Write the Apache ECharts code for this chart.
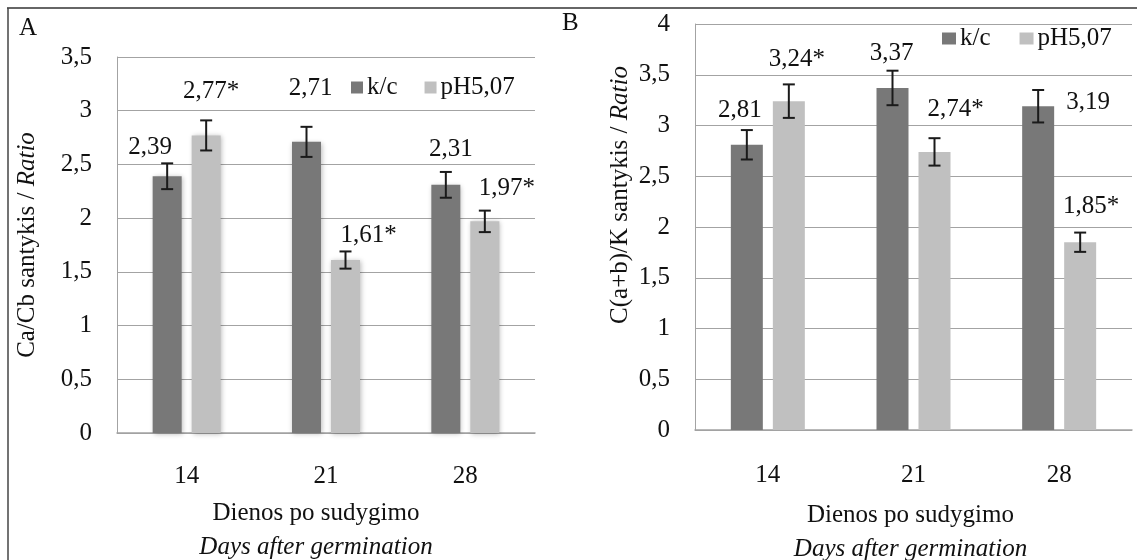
<!DOCTYPE html>
<html>
<head>
<meta charset="utf-8">
<script src="https://cdn.jsdelivr.net/npm/echarts@6/dist/echarts.min.js"></script>
<style>
  html, body { margin: 0; padding: 0; background: #fff; }
  #chart { width: 1137px; height: 560px; }
</style>
</head>
<body>
<div id="chart"></div>
<script>
// categories (days after germination)
const days = ["14", "21", "28"];

// panel A: Ca/Cb ratio
const ratioA_kc = [2.39, 2.71, 2.31];
const ratioA_ph = [2.77, 1.61, 1.97];
const errA_kc = [0.12, 0.14, 0.12];
const errA_ph = [0.14, 0.08, 0.10];

// panel B: C(a+b)/K ratio
const ratioB_kc = [2.81, 3.37, 3.19];
const ratioB_ph = [3.24, 2.74, 1.85];
const errB_kc = [0.145, 0.17, 0.16];
const errB_ph = [0.165, 0.135, 0.095];

// significance marks on the pH5,07 labels
const starsPh = ["*", "*", "*"];

// y axis ticks
const ticksA = { min: 0, max: 3.5, interval: 0.5 };
const ticksB = { min: 0, max: 4, interval: 0.5 };

// label nudges (px) so they sit where the original put them
const offA_kc = [[-17, -16], [4, -41], [5, -23]];
const offA_ph = [[5, -31], [23, -12], [22, -20]];
const offB_kc = [[-7, -22], [-1, -22], [50, 9]];
const offB_ph = [[8, -29], [21, -30], [11, -23]];

const FONT = "Liberation Serif";
const DARK = "#787878";
const LIGHT = "#c0c0c0";
const GRID = "#a3a3a3";

const barA = 29, gapA = 10;
const barB = 32, gapB = 10;

function fmt(v) {
  return String(v).replace(".", ",");
}

function barSeries(name, values, offsets, stars, color, axis, barWidth, barGap, shadow) {
  return {
    name: name,
    type: "bar",
    xAxisIndex: axis,
    yAxisIndex: axis,
    barWidth: barWidth,
    barGap: barGap,
    itemStyle: shadow
      ? { color: color, shadowBlur: 5, shadowColor: "rgba(0,0,0,0.28)", shadowOffsetX: 1, shadowOffsetY: 1 }
      : { color: color },
    label: {
      show: true,
      position: "top",
      distance: 0,
      fontFamily: FONT,
      fontSize: 25,
      color: "#111",
      formatter: function (p) {
        return p.value.toFixed(2).replace(".", ",") + (stars ? stars[p.dataIndex] : "");
      },
    },
    data: values.map(function (v, i) {
      return { value: v, label: { offset: offsets[i] } };
    }),
  };
}

function errorSeries(name, values, errs, axis, shift) {
  return {
    name: name,
    type: "custom",
    xAxisIndex: axis,
    yAxisIndex: axis,
    silent: true,
    z: 10,
    encode: { x: 0, y: [1, 2] },
    data: values.map(function (v, i) {
      return [i, v - errs[i], v + errs[i]];
    }),
    renderItem: function (params, api) {
      const lo = api.coord([api.value(0), api.value(1)]);
      const hi = api.coord([api.value(0), api.value(2)]);
      const x = lo[0] + shift;
      const cap = 6;
      const st = { stroke: "#1a1a1a", lineWidth: 2 };
      return {
        type: "group",
        children: [
          { type: "line", shape: { x1: x, y1: hi[1], x2: x, y2: lo[1] }, style: st },
          { type: "line", shape: { x1: x - cap, y1: hi[1], x2: x + cap, y2: hi[1] }, style: st },
          { type: "line", shape: { x1: x - cap, y1: lo[1], x2: x + cap, y2: lo[1] }, style: st },
        ],
      };
    },
  };
}

function yAxis(grid, ticks, name, gap, pad) {
  return {
    type: "value",
    gridIndex: grid,
    min: ticks.min,
    max: ticks.max,
    interval: ticks.interval,
    name: name,
    nameLocation: "middle",
    nameGap: gap,
    nameTextStyle: {
      fontFamily: FONT,
      fontSize: 25,
      color: "#111",
      padding: pad,
      rich: {
        i: { fontFamily: FONT, fontSize: 25, fontStyle: "italic", color: "#111" },
      },
    },
    axisLine: { show: true, lineStyle: { color: GRID, width: 1 } },
    axisTick: { show: false },
    axisLabel: { fontFamily: FONT, fontSize: 25, color: "#111", margin: 25, formatter: fmt },
    splitLine: { lineStyle: { color: GRID, width: 1 } },
  };
}

function xAxis(grid, gap, pad, labelMargin) {
  return {
    type: "category",
    gridIndex: grid,
    data: days,
    name: "{a|Dienos po sudygimo}\n{b|Days after germination}",
    nameLocation: "middle",
    nameGap: gap,
    nameTextStyle: {
      padding: pad,
      rich: {
        a: { fontFamily: FONT, fontSize: 25, color: "#111", lineHeight: 34 },
        b: { fontFamily: FONT, fontSize: 25, color: "#111", fontStyle: "italic", lineHeight: 34 },
      },
    },
    axisLine: { lineStyle: { color: GRID, width: 1.5 } },
    axisTick: { show: false },
    axisLabel: { fontFamily: FONT, fontSize: 25, color: "#111", margin: labelMargin },
  };
}

const option = {
  animation: false,
  backgroundColor: "#fff",
  title: [
    { text: "A", left: 14, top: 11, textStyle: { fontFamily: FONT, fontSize: 25, fontWeight: "normal", color: "#111" } },
    { text: "B", left: 557, top: 6, textStyle: { fontFamily: FONT, fontSize: 25, fontWeight: "normal", color: "#111" } },
  ],
  legend: [
    {
      data: ["k/c", "pH5,07"],
      left: 351,
      top: 75,
      padding: 0,
      icon: "rect",
      itemWidth: 12,
      itemHeight: 12,
      itemGap: 27,
      itemStyle: { shadowBlur: 0, shadowOffsetX: 0, shadowOffsetY: 0 },
      textStyle: { fontFamily: FONT, fontSize: 25, color: "#111", padding: [0, 0, 0, -1] },
    },
    {
      data: ["k/c", "pH5,07"],
      left: 942,
      top: 26,
      padding: 0,
      icon: "rect",
      itemWidth: 14,
      itemHeight: 12,
      itemGap: 29,
      itemStyle: { shadowBlur: 0, shadowOffsetX: 0, shadowOffsetY: 0 },
      textStyle: { fontFamily: FONT, fontSize: 25, color: "#111", padding: [0, 0, 0, -1] },
    },
  ],
  grid: [
    { left: 117, right: 602, top: 57, bottom: 127, outerBoundsMode: "none" },
    { left: 695, right: 5, top: 24, bottom: 130, outerBoundsMode: "none" },
  ],
  xAxis: [xAxis(0, 63, [0, 20, 0, 0], 31), xAxis(1, 68, [0, 6, 0, 0], 33)],
  yAxis: [
    yAxis(0, ticksA, "Ca/Cb santykis / {i|Ratio}", 77, [0, 0, 0, 0]),
    yAxis(1, ticksB, "C(a+b)/K santykis / {i|Ratio}", 62, [0, 0, 0, 64]),
  ],
  graphic: [
    { type: "line", shape: { x1: 7, y1: 8, x2: 1137, y2: 8 }, style: { stroke: "#666", lineWidth: 2 } },
    { type: "line", shape: { x1: 8, y1: 8, x2: 8, y2: 560 }, style: { stroke: "#444", lineWidth: 1.5 } },
  ],
  series: [
    barSeries("k/c", ratioA_kc, offA_kc, null, DARK, 0, barA, (gapA / barA) * 100 + "%", true),
    barSeries("pH5,07", ratioA_ph, offA_ph, starsPh, LIGHT, 0, barA, (gapA / barA) * 100 + "%", true),
    errorSeries("err A k/c", ratioA_kc, errA_kc, 0, -(barA + gapA) / 2),
    errorSeries("err A pH", ratioA_ph, errA_ph, 0, (barA + gapA) / 2),
    barSeries("k/c", ratioB_kc, offB_kc, null, DARK, 1, barB, (gapB / barB) * 100 + "%", false),
    barSeries("pH5,07", ratioB_ph, offB_ph, starsPh, LIGHT, 1, barB, (gapB / barB) * 100 + "%", false),
    errorSeries("err B k/c", ratioB_kc, errB_kc, 1, -(barB + gapB) / 2),
    errorSeries("err B pH", ratioB_ph, errB_ph, 1, (barB + gapB) / 2),
  ],
};

const myChart = echarts.init(document.getElementById("chart"));
myChart.setOption(option);
</script>
</body>
</html>
